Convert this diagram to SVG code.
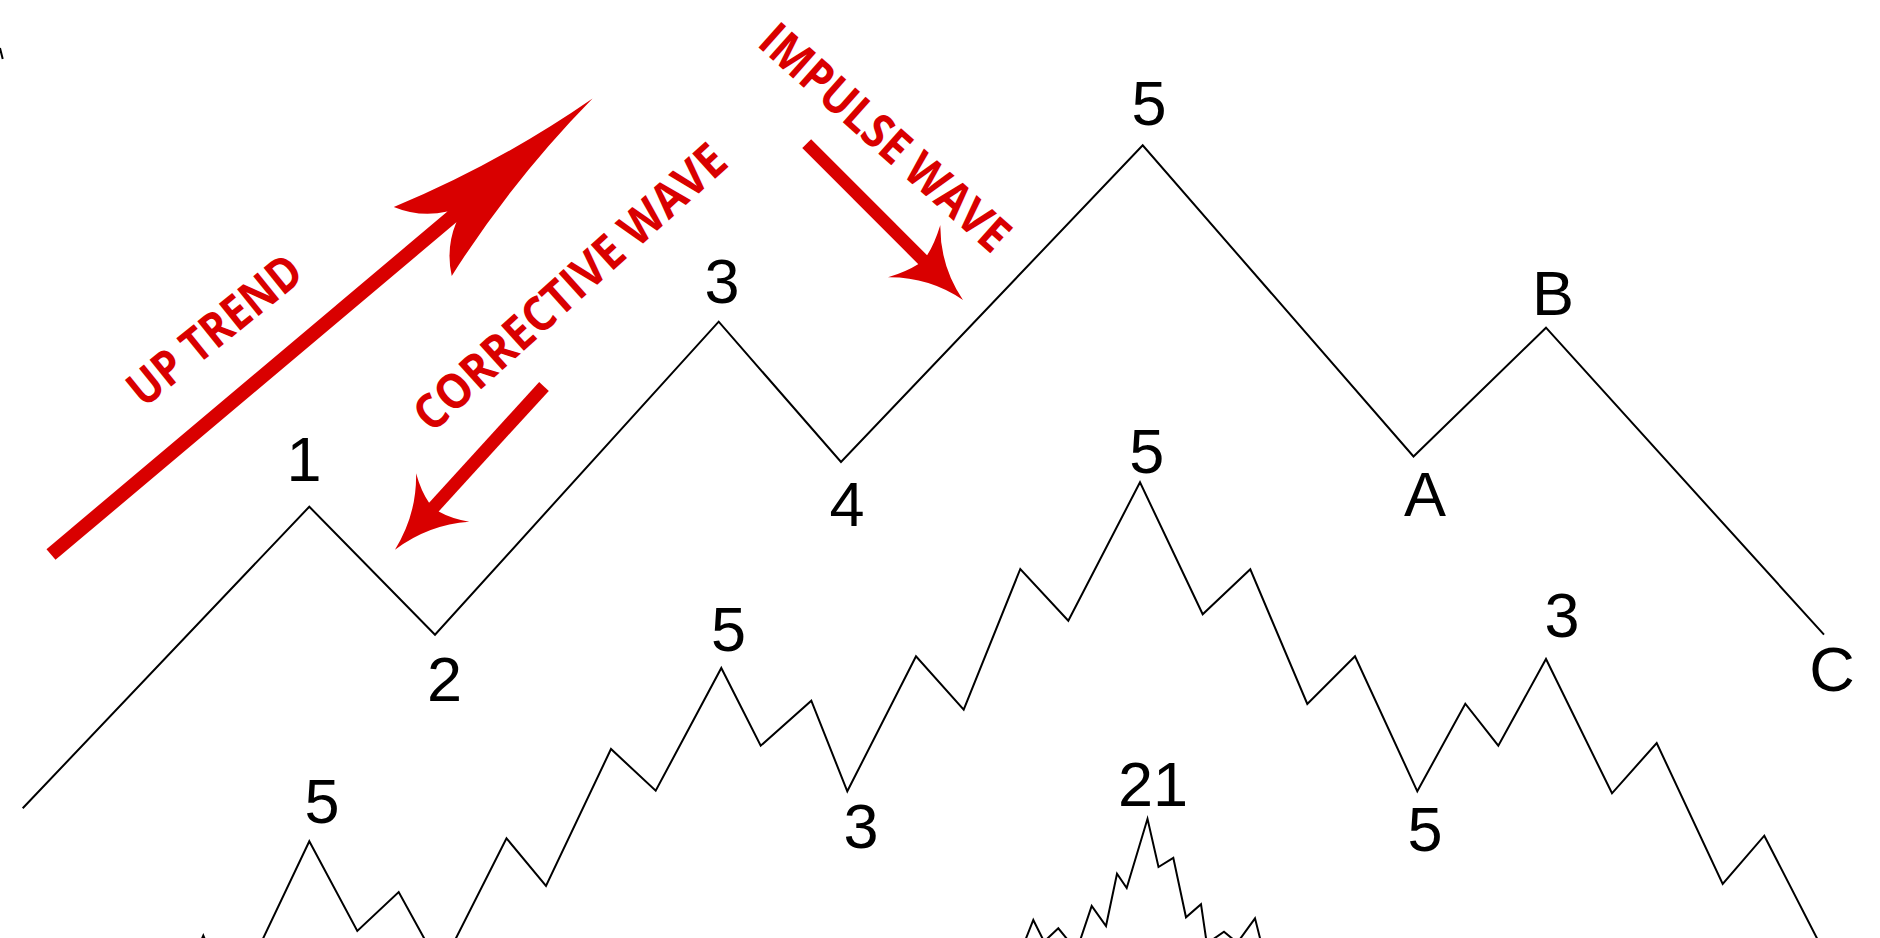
<svg xmlns="http://www.w3.org/2000/svg" width="1880" height="938" viewBox="0 0 1880 938">
<style>
.wave{fill:none;stroke:#000;stroke-width:2;stroke-linejoin:miter;stroke-miterlimit:20}
.lbl{font-family:"Liberation Sans",Arial,sans-serif;font-size:63px;fill:#000;text-anchor:middle}
.red{fill:#d90000}
.shaft{stroke:#d90000;fill:none}
.rtxt{font-family:"Open Sans","Liberation Sans",sans-serif;font-weight:700;font-size:48px;fill:#d90000;text-anchor:middle}
</style>
<rect width="1880" height="938" fill="#fff"/>
<g id="connectors">
<polyline class="wave" points="22.7,808.3 309.3,506.7 435,634.7 718.7,321.7 841,462 1142.7,145.3 1413.5,456.5 1546,327.7 1824,634.7"/>
<polyline class="wave" points="450,950 506.5,838.3 546,886 611,749 655.7,790.7 721.3,668 760.7,745.7 811.3,700.7 847.3,791.3 916,656.3 963.7,709.7 1020.3,569 1068.3,620.7 1140,482.3 1202.7,614.3 1250.3,569.3 1307.3,704 1355,656.3 1417.3,791.3 1465.3,703.7 1498.3,745.7 1546,659 1612,793.3 1656.7,743 1722.7,884 1764.3,835.7 1823,950"/>
<polyline class="wave" points="198,948 203.3,935.5 208.5,948"/>
<polyline class="wave" points="257.6,950 309.3,841.3 357.3,931 398.7,892 430.6,950"/>
<polyline class="wave" points="1021.4,950 1033.3,920 1044.1,941.6 1058.3,928.3 1076.6,950.7 1091.7,906 1106,926 1117,873.7 1126.7,888 1147.5,818.8 1158.5,867 1173.3,857.8 1186,917.3 1201,904.2 1206.8,943.6 1224,931.7 1237.3,942.8 1255,918.3 1263,950"/>
<line class="wave" x1="0" y1="48" x2="2.7" y2="59"/>
</g>
<g id="labels">
<text class="lbl" x="304" y="481">1</text>
<text class="lbl" x="444.5" y="701">2</text>
<text class="lbl" x="722" y="303">3</text>
<text class="lbl" x="847" y="525.7">4</text>
<text class="lbl" x="1149" y="125.3">5</text>
<text class="lbl" x="1425" y="516">A</text>
<text class="lbl" x="1553" y="315">B</text>
<text class="lbl" x="1832" y="690.7">C</text>
<text class="lbl" x="728.5" y="651.3">5</text>
<text class="lbl" x="861" y="848">3</text>
<text class="lbl" x="1146.7" y="472.7">5</text>
<text class="lbl" x="1425" y="850.7">5</text>
<text class="lbl" x="1562" y="637.3">3</text>
<text class="lbl" x="322" y="822.5">5</text>
<text class="lbl" x="1153" y="806">21</text>
</g>
<g id="uptrend-arrow" transform="translate(51,554.5) rotate(-40.1)">
<line class="shaft" x1="0" y1="0" x2="528" y2="0" stroke-width="14"/>
<path class="red" d="M708,0 Q594.6,10.7 486,45 Q499,20 524,7 L524,-7 Q499,-20 486,-45 Q594.6,-10.7 708,0 Z"/>
</g>
<g id="corrective-arrow" transform="translate(544,386.5) rotate(132.4)">
<line class="shaft" x1="0" y1="0" x2="166" y2="0" stroke-width="13"/>
<path class="red" d="M221,0 Q179.7,7.9 150.3,36 Q160.3,20 163.3,6.5 L163.3,-6.5 Q160.3,-20 150.3,-36 Q179.7,-7.9 221,0 Z"/>
</g>
<g id="impulse-arrow" transform="translate(806.7,143.7) rotate(45)">
<line class="shaft" x1="0" y1="0" x2="167" y2="0" stroke-width="12.5"/>
<path class="red" d="M221,0 Q180.4,7.9 152,37 Q161,20 164,6.5 L164,-6.5 Q161,-20 152,-37 Q180.4,-7.9 221,0 Z"/>
</g>
<g id="red-labels">
<text class="rtxt" transform="translate(225,343) rotate(-39)" textLength="209" lengthAdjust="spacingAndGlyphs">UP TREND</text>
<text class="rtxt" transform="translate(581,299.5) rotate(-42)" textLength="402" lengthAdjust="spacingAndGlyphs">CORRECTIVE WAVE</text>
<text class="rtxt" transform="translate(874,150) rotate(41.6)" textLength="316" lengthAdjust="spacingAndGlyphs">IMPULSE WAVE</text>
</g>
</svg>
